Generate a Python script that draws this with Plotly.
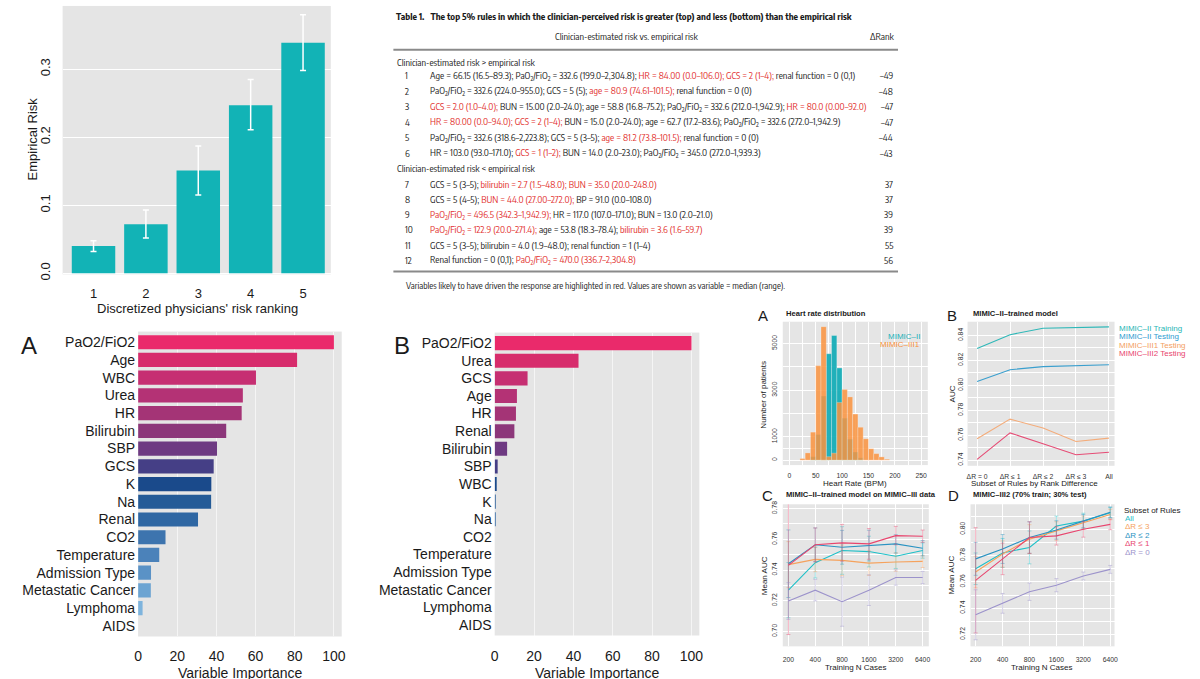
import plotly.graph_objects as go

W, H = 1200, 679
FONT = "Liberation Sans, Arial, Helvetica, sans-serif"
NARROW = "Encode Sans Condensed, Liberation Sans Narrow, Liberation Sans, Arial, sans-serif"
BG = "#E5E5E5"
TXT = "#1A1A1A"
RED = "#E2302D"

# ---------------- data: empirical risk by physician ranking ----------------
risk_rank = [1, 2, 3, 4, 5]
empirical_risk = [0.040, 0.072, 0.151, 0.247, 0.339]
risk_ci_high = [0.048, 0.093, 0.187, 0.285, 0.380]
risk_ci_low = [0.032, 0.052, 0.115, 0.211, 0.298]

# ---------------- data: variable importance ----------------
vars_a = ["PaO2/FiO2", "Age", "WBC", "Urea", "HR", "Bilirubin", "SBP", "GCS", "K", "Na",
          "Renal", "CO2", "Temperature", "Admission Type", "Metastatic Cancer", "Lymphoma", "AIDS"]
imp_a = [100, 81.2, 60.2, 53.5, 52.9, 45.0, 40.3, 38.6, 37.4, 37.3, 30.6, 14.0, 10.8, 6.6, 6.5, 2.3, 0]
vars_b = ["PaO2/FiO2", "Urea", "GCS", "Age", "HR", "Renal", "Bilirubin", "SBP", "WBC", "K", "Na",
          "CO2", "Temperature", "Admission Type", "Metastatic Cancer", "Lymphoma", "AIDS"]
imp_b = [100, 42.6, 16.7, 11.3, 10.8, 10.0, 6.3, 1.5, 0.9, 0.4, 0.2, 0, 0, 0, 0, 0, 0]
rank_colors = ["#EA2A6B", "#D72C6C", "#C62F72", "#B43275", "#A43476", "#8C377A", "#6E3A82",
               "#453F86", "#1A4A8B", "#245B97", "#2F67A3", "#3D74AE", "#4B82BA", "#5A92C6",
               "#6CA4D2", "#7EB4DD", "#8EC2E6"]

# ---------------- data: heart rate distribution ----------------
hr_bin_left = [20, 30, 40, 50, 60, 70, 80, 90, 100, 110, 120, 130, 140, 150, 160, 170, 180]
hr_mimic2 = [0, 0, 150, 1100, 2750, 4560, 5340, 3950, 1800, 900, 350, 100, 0, 0, 0, 0, 0]
hr_mimic3 = [70, 310, 1200, 4050, 5720, 150, 300, 2470, 3030, 2710, 1975, 1410, 915, 490, 280, 140, 40]

# ---------------- data: MIMIC-II trained model ----------------
rule_subsets = ["ΔR = 0", "ΔR ≤ 1", "ΔR ≤ 2", "ΔR ≤ 3", "All"]
auc_m2_train = [0.8295, 0.8406, 0.8458, 0.8466, 0.8469]
auc_m2_test = [0.8030, 0.8125, 0.8150, 0.8160, 0.8165]
auc_m3a_test = [0.7571, 0.7729, 0.7658, 0.7550, 0.7577]
auc_m3b_test = [0.7406, 0.7619, 0.7532, 0.7443, 0.7464]

# ---------------- data: training size curves ----------------
n_cases = ["200", "400", "800", "1600", "3200", "6400"]
c_all = [0.7269, 0.7448, 0.7527, 0.7520, 0.7490, 0.7527]
c_r3 = [0.7435, 0.7469, 0.7463, 0.7445, 0.7452, 0.7456]
c_r2 = [0.7441, 0.7564, 0.7548, 0.7559, 0.7570, 0.7542]
c_r1 = [0.7430, 0.7564, 0.7577, 0.7570, 0.7624, 0.7620]
c_r0 = [0.7198, 0.7269, 0.7194, 0.7269, 0.7351, 0.7351]
c_all_err = [0.018, 0.010, 0.0155, 0.010, 0.008, 0.005]
c_r3_err = [0.015, 0.008, 0.010, 0.008, 0.006, 0.004]
c_r2_err = [0.022, 0.011, 0.011, 0.010, 0.006, 0.005]
c_r1_err = [0.045, 0.011, 0.012, 0.010, 0.006, 0.004]
c_r0_err = [0.012, 0.007, 0.016, 0.010, 0.005, 0.004]

d_all = [0.7700, 0.7820, 0.7862, 0.8025, 0.8062, 0.8125]
d_r3 = [0.7675, 0.7812, 0.7925, 0.7987, 0.8050, 0.8112]
d_r2 = [0.7775, 0.7850, 0.7937, 0.7995, 0.8062, 0.8130]
d_r1 = [0.7612, 0.7775, 0.7937, 0.7950, 0.8000, 0.8037]
d_r0 = [0.7350, 0.7437, 0.7525, 0.7575, 0.7645, 0.7695]
d_all_err = [0.012, 0.011, 0.0125, 0.0075, 0.006, 0.004]
d_r3_err = [0.012, 0.010, 0.011, 0.007, 0.005, 0.004]
d_r2_err = [0.0125, 0.011, 0.012, 0.007, 0.005, 0.004]
d_r1_err = [0.040, 0.012, 0.012, 0.007, 0.006, 0.004]
d_r0_err = [0.019, 0.0075, 0.0066, 0.005, 0.003, 0.003]

subset_names = ["All", "ΔR ≤ 3", "ΔR ≤ 2", "ΔR ≤ 1", "ΔR = 0"]
subset_colors = ["#1EC0C8", "#F5A25D", "#2A93C2", "#E8456E", "#9C93CB"]
subset_err_colors = ["rgba(30,192,200,0.45)", "rgba(245,162,93,0.45)", "rgba(42,147,194,0.45)",
                     "rgba(232,69,110,0.45)", "rgba(156,147,203,0.45)"]

# ---------------- data: table ----------------
P = "PaO<sub>2</sub>/FiO<sub>2</sub>"
table_title = "Table 1.   The top 5% rules in which the clinician-perceived risk is greater (top) and less (bottom) than the empirical risk"
section_titles = ["Clinician-estimated risk &gt; empirical risk", "Clinician-estimated risk &lt; empirical risk"]
rule_ids = list(range(1, 13))
rule_segments = [
    [("Age = 66.15 (16.5–89.3); " + P + " = 332.6 (199.0–2,304.8); ", 0), ("HR = 84.00 (0.0–106.0); GCS = 2 (1–4);", 1), (" renal function = 0 (0,1)", 0)],
    [(P + " = 332.6 (224.0–955.0); GCS = 5 (5); ", 0), ("age = 80.9 (74.61–101.5);", 1), (" renal function = 0 (0)", 0)],
    [("GCS = 2.0 (1.0–4.0);", 1), (" BUN = 15.00 (2.0–24.0); age = 58.8 (16.8–75.2); " + P + " = 332.6 (212.0–1,942.9); ", 0), ("HR = 80.0 (0.00–92.0)", 1)],
    [("HR = 80.00 (0.0–94.0); GCS = 2 (1–4);", 1), (" BUN = 15.0 (2.0–24.0); age = 62.7 (17.2–83.6); " + P + " = 332.6 (272.0–1,942.9)", 0)],
    [(P + " = 332.6 (318.6–2,223.8); GCS = 5 (3–5); ", 0), ("age = 81.2 (73.8–101.5);", 1), (" renal function = 0 (0)", 0)],
    [("HR = 103.0 (93.0–171.0); ", 0), ("GCS = 1 (1–2);", 1), (" BUN = 14.0 (2.0–23.0); " + P + " = 345.0 (272.0–1,939.3)", 0)],
    [("GCS = 5 (3–5); ", 0), ("bilirubin = 2.7 (1.5–48.0); BUN = 35.0 (20.0–248.0)", 1)],
    [("GCS = 5 (4–5); ", 0), ("BUN = 44.0 (27.00–272.0);", 1), (" BP = 91.0 (0.0–108.0)", 0)],
    [(P + " = 496.5 (342.3–1,942.9);", 1), (" HR = 117.0 (107.0–171.0); BUN = 13.0 (2.0–21.0)", 0)],
    [(P + " = 122.9 (20.0–271.4);", 1), (" age = 53.8 (18.3–78.4); ", 0), ("bilirubin = 3.6 (1.6–59.7)", 1)],
    [("GCS = 5 (3–5); bilirubin = 4.0 (1.9–48.0); renal function = 1 (1–4)", 0)],
    [("Renal function = 0 (0,1); ", 0), (P + " = 470.0 (336.7–2,304.8)", 1)],
]
delta_rank = ["–49", "–48", "–47", "–47", "–44", "–43", "37", "37", "39", "39", "55", "56"]
footnote = "Variables likely to have driven the response are highlighted in red. Values are shown as variable = median (range)."


def dx(l, r):
    return [l / W, r / W]


def dy(t, b):
    return [1 - b / H, 1 - t / H]


def px(x):
    return x / W


def py(y):
    return 1 - y / H


fig = go.Figure()

# ---- top-left bar chart
fig.add_trace(go.Bar(
    x=risk_rank, y=empirical_risk, width=0.83, marker=dict(color="#12B3B6", line=dict(width=0)),
    error_y=dict(type="data", symmetric=False,
                 array=[h - v for h, v in zip(risk_ci_high, empirical_risk)],
                 arrayminus=[v - l for v, l in zip(empirical_risk, risk_ci_low)],
                 color="white", thickness=1.5, width=3),
    xaxis="x", yaxis="y", showlegend=False, hoverinfo="skip"))

# ---- importance A / B
fig.add_trace(go.Bar(x=imp_a, y=vars_a, orientation="h", width=0.8,
                     marker=dict(color=rank_colors, line=dict(width=0)),
                     xaxis="x2", yaxis="y2", showlegend=False))
fig.add_trace(go.Bar(x=imp_b, y=vars_b, orientation="h", width=0.8,
                     marker=dict(color=rank_colors, line=dict(width=0)),
                     xaxis="x3", yaxis="y3", showlegend=False))

# ---- heart rate histogram
hr_centers = [b + 5 for b in hr_bin_left]
fig.add_trace(go.Bar(x=hr_centers, y=hr_mimic2, width=10, opacity=0.95,
                     marker=dict(color="#17AEB8", line=dict(width=0.5, color="rgba(255,255,255,0.5)")),
                     xaxis="x4", yaxis="y4", showlegend=False))
fig.add_trace(go.Bar(x=hr_centers, y=hr_mimic3, width=10, opacity=0.86,
                     marker=dict(color="#FA9440", line=dict(width=0.5, color="rgba(255,255,255,0.5)")),
                     xaxis="x4", yaxis="y4", showlegend=False))
fig.update_layout(barmode="overlay")

# ---- MIMIC-II trained model
b_idx = list(range(len(rule_subsets)))
for vals, col in [(auc_m2_train, "#2EB8B8"), (auc_m2_test, "#3A9FCE"),
                  (auc_m3a_test, "#F4AC7A"), (auc_m3b_test, "#E64C75")]:
    fig.add_trace(go.Scatter(x=b_idx, y=vals, mode="lines", line=dict(color=col, width=1.1),
                             xaxis="x5", yaxis="y5", showlegend=False))

# ---- C / D
n_idx = list(range(len(n_cases)))
c_series = [(c_all, c_all_err), (c_r3, c_r3_err), (c_r2, c_r2_err), (c_r1, c_r1_err), (c_r0, c_r0_err)]
d_series = [(d_all, d_all_err), (d_r3, d_r3_err), (d_r2, d_r2_err), (d_r1, d_r1_err), (d_r0, d_r0_err)]
for ax, series in [("6", c_series), ("7", d_series)]:
    for (vals, err), col, ecol in zip(series, subset_colors, subset_err_colors):
        fig.add_trace(go.Scatter(x=n_idx, y=vals, mode="lines", line=dict(color=col, width=1.1),
                                 error_y=dict(type="data", array=err, color=ecol, thickness=0.9, width=2),
                                 xaxis="x" + ax, yaxis="y" + ax, showlegend=False))

tick13 = dict(size=13, color=TXT, family=FONT)
tick14 = dict(size=14, color=TXT, family=FONT)
tsm = dict(size=6.8, color="#333333", family=FONT)

small_grid = dict(gridcolor="white", gridwidth=0.9, zeroline=False, ticks="", showline=False)

layout_axes = dict(
    xaxis=dict(domain=dx(59, 329), range=[0.41, 5.53], tickmode="array", tickvals=risk_rank,
               ticktext=[str(r) for r in risk_rank], showgrid=False, zeroline=False, ticks="",
               tickfont=tick13, ticklabelstandoff=10, anchor="y"),
    yaxis=dict(domain=dy(3, 275), range=[-0.0015, 0.393], tickmode="array",
               tickvals=[0, 0.1, 0.2, 0.3], ticktext=["0.0", "0.1", "0.2", "0.3"], tickangle=-90,
               gridcolor="white", gridwidth=1, zeroline=False, ticks="", tickfont=tick13,
               ticklabelstandoff=9, anchor="x"),
    xaxis2=dict(domain=dx(135, 340), range=[0, 104], tickmode="array", tickvals=[0, 20, 40, 60, 80, 100],
                gridcolor="rgba(255,255,255,0.6)", gridwidth=1, zeroline=False, ticks="",
                tickfont=tick14, ticklabelstandoff=10, anchor="y2"),
    yaxis2=dict(domain=dy(333, 642), type="category", categoryorder="array", categoryarray=vars_a,
                range=[16.6, -0.6], showgrid=False, ticks="", tickfont=tick14, ticklabelstandoff=2,
                anchor="x2"),
    xaxis3=dict(domain=dx(494, 700), range=[0, 104], tickmode="array", tickvals=[0, 20, 40, 60, 80, 100],
                gridcolor="rgba(255,255,255,0.6)", gridwidth=1, zeroline=False, ticks="",
                tickfont=tick14, ticklabelstandoff=10, anchor="y3"),
    yaxis3=dict(domain=dy(334, 641), type="category", categoryorder="array", categoryarray=vars_b,
                range=[16.6, -0.6], showgrid=False, ticks="", tickfont=tick14, ticklabelstandoff=2,
                anchor="x3"),
    xaxis4=dict(domain=dx(784, 930), range=[-12.5, 262.5], tickmode="array",
                tickvals=[0, 50, 100, 150, 200, 250], tickfont=tsm, ticklabelstandoff=5, anchor="y4",
                minor=dict(tickvals=[25, 75, 125, 175, 225], showgrid=True, gridcolor="white", gridwidth=0.4),
                **small_grid),
    yaxis4=dict(domain=dy(323, 468.3), range=[-212, 5932], tickmode="array",
                tickvals=[0, 1000, 3000, 5000], tickangle=-90, tickfont=tsm, ticklabelstandoff=3,
                anchor="x4",
                minor=dict(tickvals=[500, 2000, 4000], showgrid=True, gridcolor="white", gridwidth=0.4),
                **small_grid),
    xaxis5=dict(domain=dx(970, 1118), range=[-0.29, 4.17], tickmode="array", tickvals=b_idx,
                ticktext=rule_subsets, tickfont=tsm, ticklabelstandoff=5, anchor="y5", **small_grid),
    yaxis5=dict(domain=dy(323, 469), range=[0.7355, 0.851], tickmode="array",
                tickvals=[0.74, 0.76, 0.78, 0.80, 0.82, 0.84],
                ticktext=["0.74", "0.76", "0.78", "0.80", "0.82", "0.84"], tickangle=-90,
                tickfont=tsm, ticklabelstandoff=2, anchor="x5",
                minor=dict(tickvals=[0.75, 0.77, 0.79, 0.81, 0.83], showgrid=True, gridcolor="white",
                           gridwidth=0.4),
                **small_grid),
    xaxis6=dict(domain=dx(784, 931), range=[-0.21, 5.23], tickmode="array", tickvals=n_idx,
                ticktext=n_cases, tickfont=tsm, ticklabelstandoff=8, anchor="y6", **small_grid),
    yaxis6=dict(domain=dy(508, 652), range=[0.6903, 0.7828], tickmode="array",
                tickvals=[0.70, 0.72, 0.74, 0.76, 0.78],
                ticktext=["0.70", "0.72", "0.74", "0.76", "0.78"], tickangle=-90,
                tickfont=tsm, ticklabelstandoff=3, anchor="x6",
                minor=dict(tickvals=[0.71, 0.73, 0.75, 0.77], showgrid=True, gridcolor="white",
                           gridwidth=0.4),
                **small_grid),
    xaxis7=dict(domain=dx(973, 1118), range=[-0.19, 5.16], tickmode="array", tickvals=n_idx,
                ticktext=n_cases, tickfont=tsm, ticklabelstandoff=8, anchor="y7", **small_grid),
    yaxis7=dict(domain=dy(508, 652), range=[0.711, 0.819], tickmode="array",
                tickvals=[0.72, 0.74, 0.76, 0.78, 0.80],
                ticktext=["0.72", "0.74", "0.76", "0.78", "0.80"], tickangle=-90,
                tickfont=tsm, ticklabelstandoff=3, anchor="x7",
                minor=dict(tickvals=[0.73, 0.75, 0.77, 0.79, 0.81], showgrid=True, gridcolor="white",
                           gridwidth=0.4),
                **small_grid),
)

ann = []


def add_text(x, y, text, size, color=TXT, xanchor="center", bold=False, angle=0, family=FONT):
    t = f"<b>{text}</b>" if bold else text
    ann.append(dict(x=px(x), y=py(y), xref="paper", yref="paper", text=t, showarrow=False,
                    xanchor=xanchor, yanchor="middle", textangle=angle,
                    font=dict(size=size, color=color, family=family)))


# top-left titles
add_text(28.5, 138, "Empirical Risk", 13, angle=-90)
add_text(195, 310, "Discretized physicians' risk ranking", 13)
# panels A/B big
add_text(25, 347.5, "A", 24)
add_text(401, 347, "B", 24)
add_text(238, 679, "Variable Importance", 14)
add_text(597, 679, "Variable Importance", 14)

# small panels
SM_T = 8
add_text(764.5, 317, "A", 15)
add_text(785, 315, "Heart rate distribution", 7.6, xanchor="left", bold=True)
add_text(765, 397, "Number of patients", SM_T, angle=-90)
add_text(857, 487, "Heart Rate (BPM)", SM_T)
add_text(924, 337.5, "MIMIC–II", SM_T, color="#1BB2BA", xanchor="right")
add_text(924, 346.5, "MIMIC–III1", SM_T, color="#F8913A", xanchor="right")

add_text(954.5, 317, "B", 15)
add_text(973, 315, "MIMIC–II–trained model", 7.6, xanchor="left", bold=True)
add_text(955, 396, "AUC", SM_T, angle=-90)
add_text(1037, 487, "Subset of Rules by Rank Difference", SM_T)
for lab, col, yy in zip(["MIMIC–II Training", "MIMIC–II Testing", "MIMIC–III1 Testing", "MIMIC–III2 Testing"],
                        ["#27B5B5", "#2E9BD0", "#F3A062", "#E8456E"], [330, 338.3, 346.7, 355]):
    add_text(1120, yy, lab, SM_T, color=col, xanchor="left")

add_text(769, 499.5, "C", 15)
add_text(785, 498, "MIMIC–II–trained model on MIMIC–III data", 7.6, xanchor="left", bold=True)
add_text(765, 580, "Mean AUC", SM_T, angle=-90)
add_text(858, 673, "Training N Cases", SM_T)

add_text(956, 499.5, "D", 15)
add_text(973, 498, "MIMIC–III2 (70% train; 30% test)", 7.6, xanchor="left", bold=True)
add_text(953.5, 580, "Mean AUC", SM_T, angle=-90)
add_text(1045, 673, "Training N Cases", SM_T)
add_text(1126, 514.3, "Subset of Rules", SM_T, xanchor="left")
for i, (lab, col) in enumerate(zip(subset_names, subset_colors)):
    add_text(1127, 522.5 + i * 8.5, lab, SM_T, color=col, xanchor="left")

# table
TF = 9.4
add_text(393, 13, table_title, 9.35, xanchor="left", bold=True, family=NARROW)
add_text(627, 33, "Clinician-estimated risk vs. empirical risk", TF, family=NARROW)
add_text(899, 33, "ΔRank", TF, xanchor="right", family=NARROW)
add_text(394, 60, section_titles[0], TF, xanchor="left", family=NARROW)
add_text(394, 167.5, section_titles[1], TF, xanchor="left", family=NARROW)
for i, (rid, segs, dr) in enumerate(zip(rule_ids, rule_segments, delta_rank)):
    yy = 73 + i * 15.8 if i < 6 else 183 + (i - 6) * 15.45
    add_text(402, yy, str(rid), TF, xanchor="left", family=NARROW)
    txt = "".join(f"<span style='color:{RED}'>{s}</span>" if hl else s for s, hl in segs)
    add_text(427, yy, txt, TF, xanchor="left", family=NARROW)
    add_text(897, yy, dr, TF, xanchor="right", family=NARROW)
add_text(403, 286, footnote, 8.9, xanchor="left", family=NARROW)

shapes = [
    dict(type="line", xref="paper", yref="paper", x0=px(392), x1=px(900), y0=py(47.5), y1=py(47.5),
         line=dict(color="#8A8A8A", width=2)),
    dict(type="line", xref="paper", yref="paper", x0=px(392), x1=px(900), y0=py(272), y1=py(272),
         line=dict(color="#8A8A8A", width=2)),
]

fig.update_layout(
    width=W, height=H, margin=dict(l=0, r=0, t=0, b=0),
    paper_bgcolor="white", plot_bgcolor=BG, showlegend=False,
    font=dict(family=FONT, color=TXT),
    annotations=ann, shapes=shapes, **layout_axes)

fig.write_html("out.html", config={"displayModeBar": False},
               post_script="document.body.style.margin='0px';document.body.style.overflow='hidden';")
